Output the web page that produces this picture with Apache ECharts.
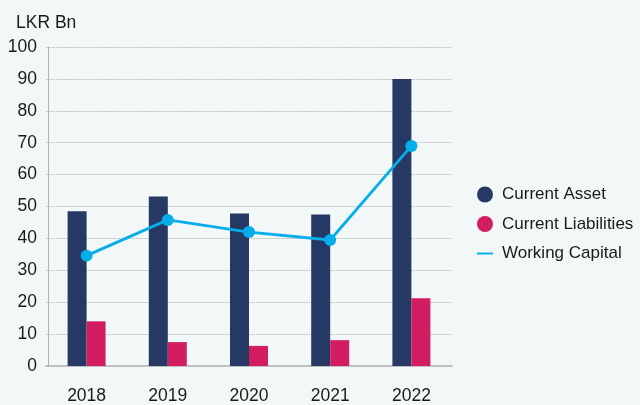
<!DOCTYPE html>
<html><head><meta charset="utf-8">
<script src="https://cdn.jsdelivr.net/npm/echarts@6/dist/echarts.min.js"></script>
<style>html,body{margin:0;padding:0;background:#F2F8F8;}#c{width:640px;height:405px;}</style>
</head><body><div id="c"></div>
<script>
const categories = ['2018','2019','2020','2021','2022'];
const currentAsset = [48.5, 53.1, 47.8, 47.5, 90];
const currentLiabilities = [14.0, 7.5, 6.3, 8.1, 21.2];
const workingCapital = [34.6, 45.8, 42.0, 39.5, 69.0];
const yTicks = {min: 0, max: 100, interval: 10};

const chart = echarts.init(document.getElementById('c'));
const font = 'Liberation Sans, Arial, Helvetica, sans-serif';
chart.setOption({
  backgroundColor: '#F2F8F8',
  animation: false,
  textStyle: {fontFamily: font},
  title: {text: 'LKR Bn', left: 11, top: 9, textStyle: {fontSize: 17.5, fontWeight: 'normal', color: '#1a1a1a', fontFamily: font}},
  grid: {left: 46, right: 188, top: 47, bottom: 38, containLabel: false},
  legend: {
    orient: 'vertical', left: 472, top: 181, itemGap: 12.5, itemWidth: 16, itemHeight: 17,
    textStyle: {fontSize: 17, color: '#1a1a1a', fontFamily: font, padding: [0, 0, 0, 4]},
    data: [
      {name: 'Current Asset', icon: 'circle'},
      {name: 'Current Liabilities', icon: 'circle'},
      {name: 'Working Capital', icon: 'path://M0,7.5 L17,7.5 L17,9.5 L0,9.5 Z'}
    ]
  },
  xAxis: {
    type: 'category', data: categories,
    axisLine: {lineStyle: {color: '#c0c0c0', width: 2}},
    axisTick: {show: false},
    axisLabel: {fontSize: 17.5, color: '#1a1a1a', margin: 21, fontFamily: font}
  },
  yAxis: {
    type: 'value', min: yTicks.min, max: yTicks.max, interval: yTicks.interval,
    offset: -2,
    axisLine: {show: true, lineStyle: {color: '#b0b0b0', width: 1}},
    axisTick: {show: false},
    axisLabel: {fontSize: 17.5, color: '#1a1a1a', margin: 11, fontFamily: font},
    splitLine: {lineStyle: {color: '#bcbcbc', type: [1.5, 1], width: 1.2}}
  },
  series: [
    {name: 'Current Asset', type: 'bar', data: currentAsset, barWidth: 19, barGap: '0%', itemStyle: {color: '#263864'}},
    {name: 'Current Liabilities', type: 'bar', data: currentLiabilities, barWidth: 19, barGap: '0%', itemStyle: {color: '#D21D62'}},
    {name: 'Working Capital', type: 'line', data: workingCapital, symbol: 'circle', symbolSize: 12,
     lineStyle: {color: '#05AEEA', width: 2.8}, itemStyle: {color: '#05AEEA'}, z: 5}
  ]
});
</script></body></html>
